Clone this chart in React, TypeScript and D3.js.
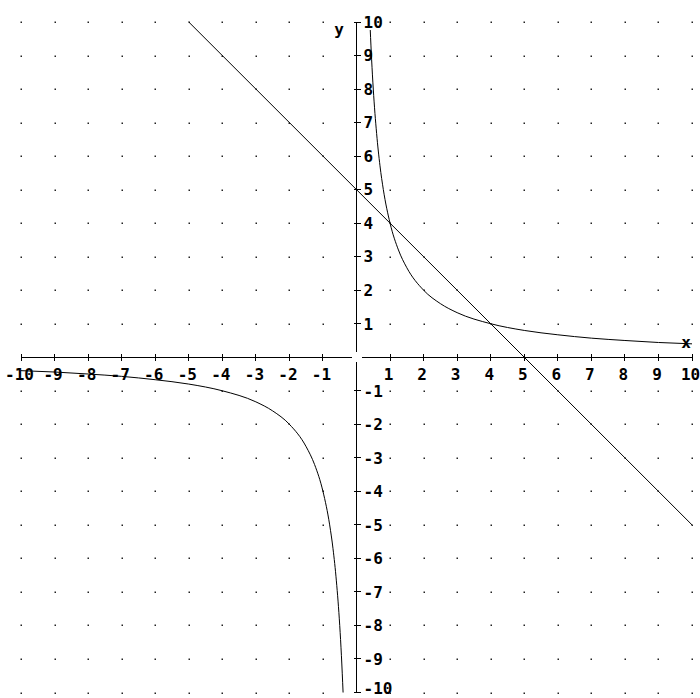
import React from 'react';
import * as d3 from 'd3';

// tick values on both axes
const xTicks = [-10, -9, -8, -7, -6, -5, -4, -3, -2, -1, 1, 2, 3, 4, 5, 6, 7, 8, 9, 10];
const yTicks = [-10, -9, -8, -7, -6, -5, -4, -3, -2, -1, 1, 2, 3, 4, 5, 6, 7, 8, 9, 10];
const gridValues = [-10, -9, -8, -7, -6, -5, -4, -3, -2, -1, 0, 1, 2, 3, 4, 5, 6, 7, 8, 9, 10];

// curve points (right branch)
const rightX = [0.41, 0.45, 0.5, 0.6, 0.7, 0.8, 1, 1.25, 1.5, 2, 2.5, 3, 4, 5, 6, 7, 8, 9, 10];
const rightY = [9.76, 8.89, 8, 6.67, 5.71, 5, 4, 3.2, 2.67, 2, 1.6, 1.33, 1, 0.8, 0.67, 0.57, 0.5, 0.44, 0.4];
// left branch
const leftX = [-10, -9, -8, -7, -6, -5, -4, -3, -2.5, -2, -1.5, -1.25, -1, -0.8, -0.7, -0.6, -0.5, -0.45, -0.4];
const leftY = [-0.4, -0.44, -0.5, -0.57, -0.67, -0.8, -1, -1.33, -1.6, -2, -2.67, -3.2, -4, -5, -5.71, -6.67, -8, -8.89, -10];
// straight line end points
const lineX = [-5, 10];
const lineY = [10, -5];

const W = 700;
const H = 698;
const FONT = '"DejaVu Sans Mono", "Liberation Mono", monospace';

const App = () => {
  const x = d3.scaleLinear().domain([-10, 10]).range([21, 692]);
  const y = d3.scaleLinear().domain([-10, 10]).range([692.5, 22]);
  const x0 = x(0);
  const y0 = y(0);

  const line = d3.line<[number, number]>()
    .x(d => x(d[0]))
    .y(d => y(d[1]))
    .curve(d3.curveMonotoneX);

  const right = rightX.map((v, i) => [v, rightY[i]] as [number, number]);
  const left = leftX.map((v, i) => [v, leftY[i]] as [number, number]);
  const straight = lineX.map((v, i) => [v, lineY[i]] as [number, number]);

  const gap = 5;

  return (
    <svg width={W} height={H} style={{ position: 'absolute', left: 0, top: 0, background: '#fff' }}>
      {/* dot grid */}
      {gridValues.map(gx => gridValues.map(gy => (
        gx === 0 || gy === 0 ? null :
        <rect key={gx + '_' + gy} x={Math.round(x(gx)) - 0.5} y={Math.round(y(gy)) - 0.5} width={1.5} height={1.5} fill="#222" />
      )))}

      {/* axes, broken at origin */}
      <g stroke="#000" strokeWidth={1} shapeRendering="crispEdges">
        <line x1={x(-10)} x2={x0 - gap} y1={y0} y2={y0} />
        <line x1={x0 + gap} x2={x(10)} y1={y0} y2={y0} />
        <line x1={x0} x2={x0} y1={y(10)} y2={y0 - gap} />
        <line x1={x0} x2={x0} y1={y0 + gap} y2={y(-10)} />
        {xTicks.map(t => <line key={'xt' + t} x1={x(t)} x2={x(t)} y1={y0 - 3} y2={y0 + 4} />)}
        {yTicks.map(t => <line key={'yt' + t} x1={x0 - 3} x2={x0 + 4} y1={y(t)} y2={y(t)} />)}
      </g>

      {/* curves */}
      <g fill="none" stroke="#000" strokeWidth={1}>
        <path d={line(right) || ''} />
        <path d={line(left) || ''} />
        <path d={line(straight) || ''} />
      </g>

      {/* tick labels */}
      <g fontFamily={FONT} fontWeight="bold" fontSize={16} fill="#000">
        {xTicks.map(t => {
          const s = String(t);
          const w = s.length * 9.6;
          const lx = Math.max(0, x(t) - 1.5 - w / 2);
          return <text key={'xl' + t} x={lx} y={y0 + 23}>{s}</text>;
        })}
        {yTicks.map(t => {
          const s = String(t);
          const by = Math.min(H - 4, y(t) + 5.8);
          return <text key={'yl' + t} x={x0 + 7} y={by}>{s}</text>;
        })}
        <text x={686} y={343} dy="0.32em" textAnchor="middle">x</text>
        <text x={339} y={30} dy="0.32em" textAnchor="middle">y</text>
      </g>
    </svg>
  );
};

export default App;
